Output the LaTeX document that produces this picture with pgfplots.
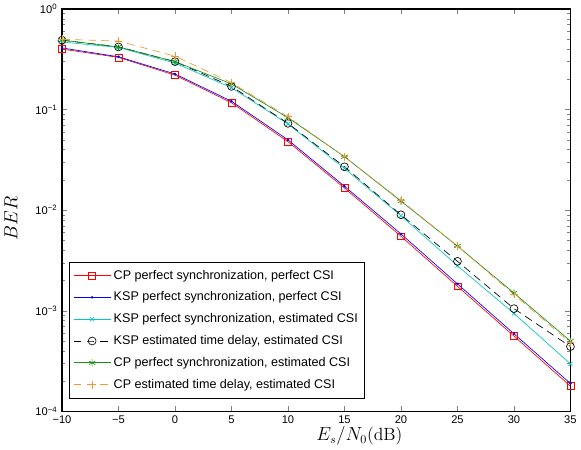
\documentclass[border=0pt]{standalone}
\usepackage{fontspec}
\setsansfont{Liberation Sans}
\usepackage{pgfplots}
\pgfplotsset{compat=1.18}
\definecolor{cpOrange}{rgb}{0.92,0.60,0.20}
\definecolor{cpGreen}{rgb}{0.10,0.55,0.10}
\definecolor{kspCyan}{rgb}{0.0,0.78,0.78}
\begin{document}
\begin{tikzpicture}
\begin{axis}[
    scale only axis,
    width=388pt, height=307pt,
    ymode=log,
    xmin=-10, xmax=35,
    ymin=1e-4, ymax=1,
    xtick={-10,-5,...,35},
    xticklabels={−10,−5,0,5,10,15,20,25,30,35},
    ytick={1e-4,1e-3,1e-2,1e-1,1},
    yticklabels={10\textsuperscript{−4},10\textsuperscript{−3},10\textsuperscript{−2},10\textsuperscript{−1},10\textsuperscript{0}},
    tick label style={font=\sffamily\fontsize{8.5}{10}\selectfont},
    tick align=inside,
    axis line style={line width=0.8pt},
    major tick length=4pt, minor tick length=2.5pt,
    xlabel={$E_s/N_0$(dB)},
    ylabel={$BER$},
    label style={font=\fontsize{13.5}{16}\selectfont},
    xlabel style={at={(axis description cs:0.585,0)}, anchor=north, yshift=-8pt},
    ylabel style={at={(ticklabel cs:0.48)}, yshift=7pt},
    legend cell align=left,
    legend style={at={(axis description cs:0.0135,0.032)}, anchor=south west,
        font=\sffamily\fontsize{9.6}{11.5}\selectfont, draw=black, line width=0.6pt,
        row sep=4.2pt, inner xsep=3pt, inner ysep=4pt},
    legend image code/.code={\draw[mark repeat=2,mark phase=2,#1] plot coordinates {(0cm,0cm) (0.5cm,0cm) (1.0cm,0cm)};},
    legend image post style={line width=0.5pt},
    every axis plot/.append style={line width=0.5pt},
]
\addplot[red, mark=square, mark size=2.6pt] coordinates {
(-10,0.40) (-5,0.33) (0,0.22) (5,0.117) (10,0.048) (15,0.0166) (20,0.0055) (25,0.00175) (30,0.00056) (35,0.000178)};
\addlegendentry{CP perfect synchronization, perfect CSI}
\addplot[blue, mark=*, mark size=0.7pt] coordinates {
(-10,0.41) (-5,0.335) (0,0.226) (5,0.121) (10,0.050) (15,0.0173) (20,0.0058) (25,0.00185) (30,0.00059) (35,0.000189)};
\addlegendentry{KSP perfect synchronization, perfect CSI}
\addplot[kspCyan, mark=x, mark size=2.2pt] coordinates {
(-10,0.47) (-5,0.415) (0,0.29) (5,0.165) (10,0.072) (15,0.026) (20,0.0088) (25,0.0028) (30,0.00094) (35,0.000296)};
\addlegendentry{KSP perfect synchronization, estimated CSI}
\addplot[black, dash pattern=on 6pt off 4pt, mark=o, mark size=3pt, mark options={solid}] coordinates {
(-10,0.49) (-5,0.42) (0,0.30) (5,0.17) (10,0.073) (15,0.027) (20,0.009) (25,0.0031) (30,0.00105) (35,0.00044)};
\addlegendentry{KSP estimated time delay, estimated CSI}
\addplot[cpGreen, mark=asterisk, mark size=2.8pt] coordinates {
(-10,0.49) (-5,0.42) (0,0.30) (5,0.18) (10,0.083) (15,0.034) (20,0.0123) (25,0.0044) (30,0.0015) (35,0.0005)};
\addlegendentry{CP perfect synchronization, estimated CSI}
\addplot[cpOrange, dash pattern=on 6pt off 4pt, mark=+, mark size=3pt, mark options={solid}] coordinates {
(-10,0.50) (-5,0.48) (0,0.34) (5,0.185) (10,0.085) (15,0.034) (20,0.0125) (25,0.0044) (30,0.00145) (35,0.00048)};
\addlegendentry{CP estimated time delay, estimated CSI}
\end{axis}
\end{tikzpicture}
\end{document}
